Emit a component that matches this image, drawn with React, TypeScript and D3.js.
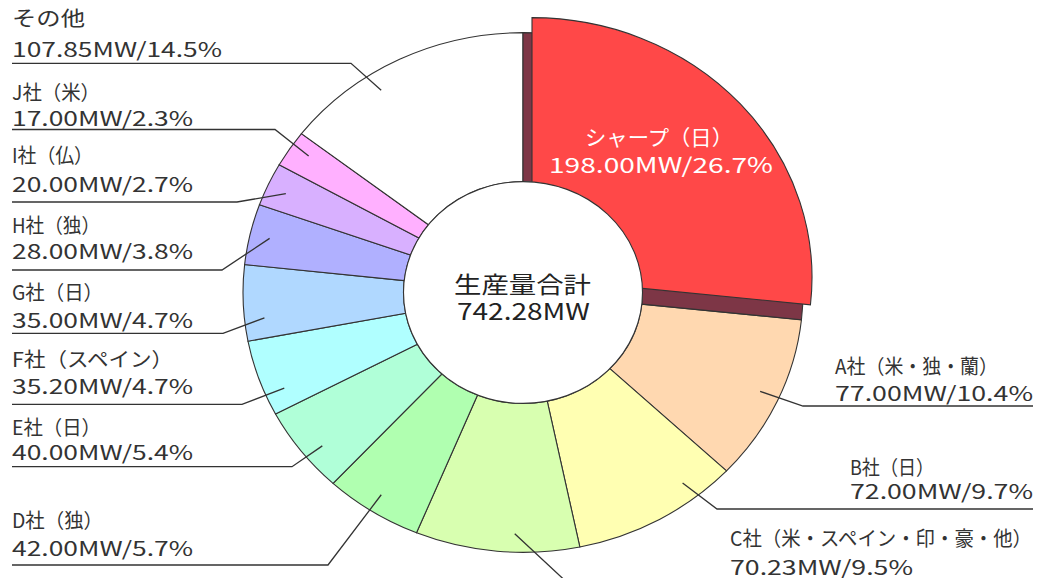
import React from 'react';
import * as d3 from 'd3';

// ---- data ----
const companies = [
  'シャープ（日）',
  'A社（米・独・蘭）',
  'B社（日）',
  'C社（米・スペイン・印・豪・他）',
  'D社（独）',
  'E社（日）',
  'F社（スペイン）',
  'G社（日）',
  'H社（独）',
  'I社（仏）',
  'J社（米）',
  'その他',
];
const production = [198.0, 77.0, 72.0, 70.23, 42.0, 40.0, 35.2, 35.0, 28.0, 20.0, 17.0, 107.85];
const shares = [26.7, 10.4, 9.7, 9.5, 5.7, 5.4, 4.7, 4.7, 3.8, 2.7, 2.3, 14.5];
const totalTitle = '生産量合計';
const totalValue = 742.28;

// ---- styles / layout ----
const sliceColors = [
  '#ff4848', '#ffd8b0', '#ffffb2', '#d8ffb0', '#b0ffb0', '#b0ffd8',
  '#b0ffff', '#b0d8ff', '#b0b0ff', '#d8b0ff', '#ffb0ff', '#ffffff',
];
const shadowColor = '#7d3646';
const strokeColor = '#333333';
const textColor = '#333333';
const FONT = "'Noto Sans CJK JP', 'Noto Sans', sans-serif";

const W = 1037;
const H = 578;
const cx = 523;
const cy = 292.5;
const outerR = 280;
const innerR = 119.5;
const squash = 0.928;
const explode = { dx: 9, dy: -15 };
const leaderR = 260;

type Layout = {
  side: 'left' | 'right';
  x: number;
  nameY: number;
  valueY: number;
  lineY: number;
  elbowX: number;
  nameW: number;
  valueW: number;
  dAngle: number;
};

const labelLayout: (Layout | null)[] = [
  null,
  { side: 'right', x: 835, nameY: 374, valueY: 401, lineY: 406, elbowX: 803, nameW: 163, valueW: 198, dAngle: -0.5 },
  { side: 'right', x: 850, nameY: 475, valueY: 499, lineY: 509, elbowX: 717, nameW: 84, valueW: 183, dAngle: -8.7 },
  { side: 'right', x: 730, nameY: 546, valueY: 574.5, lineY: 588, elbowX: 573, nameW: 302, valueW: 183, dAngle: -3.5 },
  { side: 'left', x: 12, nameY: 528, valueY: 556, lineY: 565, elbowX: 328, nameW: 91, valueW: 181, dAngle: 0.5 },
  { side: 'left', x: 12, nameY: 435, valueY: 460, lineY: 466.7, elbowX: 292, nameW: 89, valueW: 181, dAngle: -1.9 },
  { side: 'left', x: 12, nameY: 366.5, valueY: 394.3, lineY: 404.3, elbowX: 242, nameW: 161, valueW: 181, dAngle: -4 },
  { side: 'left', x: 12, nameY: 300, valueY: 327.7, lineY: 333.3, elbowX: 223, nameW: 91, valueW: 181, dAngle: -3.7 },
  { side: 'left', x: 12, nameY: 233.3, valueY: 259.3, lineY: 270, elbowX: 222, nameW: 88, valueW: 181, dAngle: 0 },
  { side: 'left', x: 12, nameY: 163.3, valueY: 191.7, lineY: 202, elbowX: 237, nameW: 81, valueW: 181, dAngle: -0.4 },
  { side: 'left', x: 12, nameY: 100, valueY: 126, lineY: 129.5, elbowX: 275, nameW: 88, valueW: 181, dAngle: 0.9 },
  { side: 'left', x: 12, nameY: 26, valueY: 57.3, lineY: 63.3, elbowX: 351, nameW: 73, valueW: 210, dAngle: -6.9 },
];

const valueText = (i: number) => `${production[i].toFixed(2)}MW/${shares[i]}%`;

export default function App() {
  const pie = d3
    .pie<number>()
    .sort(null)
    .value((d) => d);
  const arcs = pie(production);
  const arc = d3.arc<d3.PieArcDatum<number>>().innerRadius(innerR).outerRadius(outerR);
  const arcExploded = d3.arc<d3.PieArcDatum<number>>().innerRadius(40).outerRadius(outerR);

  const lines: React.ReactNode[] = [];
  const texts: React.ReactNode[] = [];

  arcs.forEach((a, i) => {
    const L = labelLayout[i];
    if (!L) return;
    const mid = (a.startAngle + a.endAngle) / 2 + (L.dAngle * Math.PI) / 180;
    const ex = cx + leaderR * Math.sin(mid);
    const ey = cy - leaderR * Math.cos(mid) * squash;
    const farX = L.side === 'left' ? 12 : 1033;
    const pts: [number, number][] = [
      [ex, ey],
      [L.elbowX, L.lineY],
      [farX, L.lineY],
    ];
    lines.push(
      <path
        key={'l' + i}
        d={d3.line()(pts) || ''}
        fill="none"
        stroke={strokeColor}
        strokeWidth={1.3}
      />
    );
    texts.push(
      <text
        key={'n' + i}
        x={L.x}
        y={L.nameY}
        textLength={L.nameW}
        lengthAdjust="spacingAndGlyphs"
      >
        {companies[i]}
      </text>,
      <text
        key={'v' + i}
        x={L.x}
        y={L.valueY}
        textLength={L.valueW}
        lengthAdjust="spacingAndGlyphs"
      >
        {valueText(i)}
      </text>
    );
  });

  const sharp = arcs[0];

  return (
    <svg
      width={W}
      height={H}
      style={{ position: 'absolute', left: 0, top: 0, background: '#fff' }}
      fontFamily={FONT}
    >
      <rect x={0} y={0} width={W} height={H} fill="#fff" />
      <g transform={`translate(${cx},${cy}) scale(1,${squash})`}>
        {arcs.slice(1).map((a, k) => (
          <path
            key={k}
            d={arc(a) || ''}
            fill={sliceColors[k + 1]}
            stroke={strokeColor}
            strokeWidth={1.1}
            vectorEffect="non-scaling-stroke"
          />
        ))}
        <path
          d={arc(sharp) || ''}
          fill={shadowColor}
          stroke={strokeColor}
          strokeWidth={1.1}
          vectorEffect="non-scaling-stroke"
        />
      </g>
      <g transform={`translate(${cx + explode.dx},${cy + explode.dy}) scale(1,${squash})`}>
        <path
          d={arcExploded(sharp) || ''}
          fill={sliceColors[0]}
          stroke={strokeColor}
          strokeWidth={1.1}
          vectorEffect="non-scaling-stroke"
        />
      </g>
      <ellipse
        cx={cx}
        cy={cy}
        rx={innerR}
        ry={innerR * squash}
        fill="#fff"
        stroke={strokeColor}
        strokeWidth={1.1}
      />
      <g>{lines}</g>
      <g fill={textColor} fontSize={20}>
        {texts}
      </g>
      <g fill="#fff" fontSize={21} textAnchor="middle">
        <text x={659} y={145} textLength={148} lengthAdjust="spacingAndGlyphs">
          {companies[0]}
        </text>
        <text x={661} y={173} textLength={224} lengthAdjust="spacingAndGlyphs">
          {valueText(0)}
        </text>
      </g>
      <g fill="#222" fontSize={23} textAnchor="middle">
        <text x={522.5} y={293} textLength={137} lengthAdjust="spacingAndGlyphs">
          {totalTitle}
        </text>
        <text x={523.5} y={320} textLength={133} lengthAdjust="spacingAndGlyphs">
          {`${totalValue.toFixed(2)}MW`}
        </text>
      </g>
    </svg>
  );
}
